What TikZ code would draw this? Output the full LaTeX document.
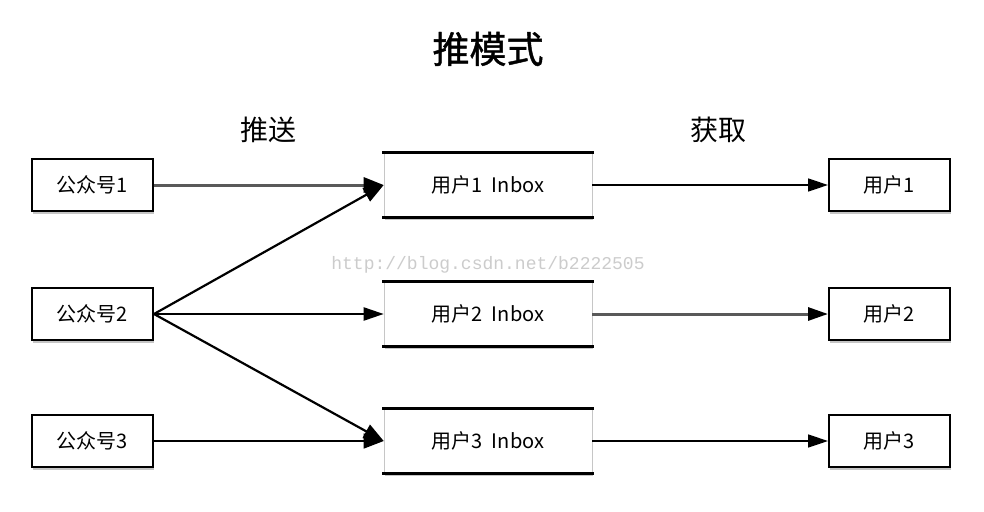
\documentclass[tikz,border=0pt]{standalone}
\usepackage{fontspec}
\setmainfont{Noto Sans CJK SC}
\newfontfamily\titlefont[FakeBold=1.2]{Noto Sans CJK SC}
\newfontfamily\wmfont{Liberation Mono}
\usetikzlibrary{arrows.meta,shadows}
\begin{document}
\begin{tikzpicture}[x=1pt,y=-1pt,
  box/.style={draw=black, line width=2pt, fill=white, minimum width=121pt, minimum height=52pt,
    inner sep=0pt, font=\fontsize{20}{24}\selectfont,
    drop shadow={opacity=0.45, shadow xshift=1pt, shadow yshift=-3pt}},
  inbox/.style={draw=gray!45, line width=0.6pt, fill=white, minimum width=208pt, minimum height=64pt,
    inner sep=0pt, font=\fontsize{20}{24}\selectfont,
    drop shadow={opacity=0.45, shadow xshift=1pt, shadow yshift=-3pt}},
  edgeline/.style={line width=3pt, line cap=rect},
  tipA/.style={-{Triangle[length=20pt,width=15pt,color=black]}},
  tipB/.style={-{Triangle[length=20pt,width=13pt,color=black]}},
  darkarrow/.style={tipA, line width=2.2pt, black},
  grayarrow/.style={tipB, line width=3pt, black!65},
  thinarrow/.style={tipB, line width=1.4pt, black},
  label/.style={font=\fontsize{28}{32}\selectfont}
]
\useasboundingbox (0,0) rectangle (984,511);
\fill[white] (0,0) rectangle (984,511);

\node[font=\titlefont\fontsize{37}{42}\selectfont] (title) at (488,49) {推模式};
\node[label] (push) at (268,130) {推送};
\node[label] (pull) at (718,130) {获取};

\node[text=gray!40, font=\wmfont\fontsize{18}{20}\selectfont] (wm) at (488,265) {http://blog.csdn.net/b2222505};

\node[box] (s1) at (92.5,185) {公众号1};
\node[box] (s2) at (92.5,314) {公众号2};
\node[box] (s3) at (92.5,441) {公众号3};

\node[inbox] (i1) at (488,185) {用户1\ \ Inbox};
\node[inbox] (i2) at (488,314) {用户2\ \ Inbox};
\node[inbox] (i3) at (488,441) {用户3\ \ Inbox};
\foreach \n in {i1,i2,i3}{
  \draw[edgeline] (\n.north west) -- (\n.north east);
  \draw[edgeline] (\n.south west) -- (\n.south east);
}

\node[box] (u1) at (889.5,185) {用户1};
\node[box] (u2) at (889.5,314) {用户2};
\node[box] (u3) at (889.5,441) {用户3};

\draw[grayarrow, tipA] (s1.east) -- (i1.west);
\draw[darkarrow] (s2.east) -- (i1.west);
\draw[darkarrow, tipB] (s2.east) -- (i2.west);
\draw[darkarrow] (s2.east) -- (i3.west);
\draw[thinarrow, tipA] (s3.east) -- (i3.west);

\draw[thinarrow] (i1.east) -- (u1.west);
\draw[grayarrow] (i2.east) -- (u2.west);
\draw[thinarrow] (i3.east) -- (u3.west);
\end{tikzpicture}
\end{document}
